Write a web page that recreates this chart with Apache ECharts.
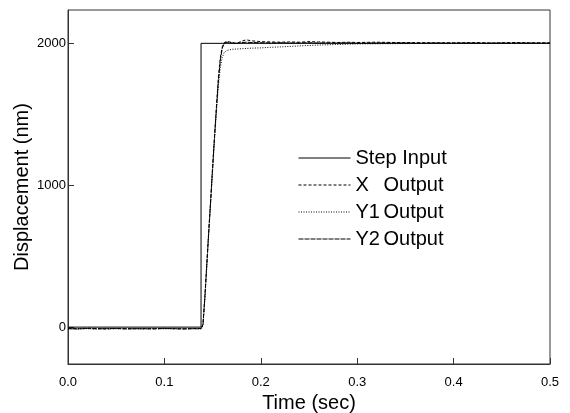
<!DOCTYPE html>
<html>
<head>
<meta charset="utf-8">
<script src="https://cdn.jsdelivr.net/npm/echarts@6/dist/echarts.min.js"></script>
<style>html,body{margin:0;padding:0;background:#fff}#c{width:570px;height:413px}</style>
</head>
<body>
<div id="c"></div>
<script>
var stepTime = [0, 0.138, 0.138, 0.5];
var stepValue = [0, 0, 2000, 2000];

var time = [0,0.01,0.02,0.03,0.04,0.05,0.06,0.07,0.08,0.09,0.1,0.11,0.12,0.13,0.138,0.140,0.142,0.144,0.146,0.148,0.150,0.152,0.154,0.156,0.158,0.160,0.162,0.165,0.17,0.175,0.18,0.185,0.19,0.2,0.21,0.22,0.23,0.24,0.25,0.26,0.27,0.28,0.29,0.3,0.32,0.34,0.36,0.38,0.4,0.42,0.44,0.46,0.48,0.5];

var xOutput = [-10,-12,-8,-10,-14,-9,-11,-12,-10,-13,-9,-11,-12,-10,-10,20,220,450,680,900,1130,1350,1560,1760,1900,1975,2005,2015,2005,2000,2015,2025,2018,2012,2010,2008,2010,2008,2012,2010,2008,2006,2008,2006,2008,2006,2005,2004,2004,2005,2002,2006,2004,2003];

var y1Output = [-12,-10,-11,-13,-9,-12,-10,-11,-13,-10,-12,-9,-11,-12,-11,10,200,430,660,880,1100,1320,1520,1700,1830,1900,1935,1950,1958,1960,1962,1964,1966,1968,1972,1975,1978,1982,1985,1988,1990,1992,1994,1996,1997,1998,1999,1999,2000,2000,2001,2000,2001,2000];

var y2Output = [-11,-13,-10,-12,-11,-10,-13,-11,-12,-11,-10,-12,-13,-11,-12,15,210,440,670,890,1120,1340,1545,1740,1880,1965,2000,2008,2003,2000,2005,2008,2006,2004,2003,2004,2002,2003,2004,2002,2003,2002,2003,2001,2002,2003,2001,2002,2001,2002,2001,2002,2001,2002];

var yTicks = [0, 1000, 2000];

function pairs(xs, ys) { return xs.map(function (x, i) { return [x, ys[i]]; }); }

var chart = echarts.init(document.getElementById('c'), null, {renderer: 'canvas'});
var font = 'Liberation Sans, Arial, sans-serif';
chart.setOption({
  animation: false,
  backgroundColor: '#fff',
  textStyle: {fontFamily: font},
  grid: {left: 68, right: 20, top: 10, bottom: 49, show: true, borderColor: '#333', borderWidth: 1, containLabel: false, outerBoundsMode: 'none'},
  xAxis: {
    type: 'value', min: 0, max: 0.5, interval: 0.1,
    name: 'Time (sec)', nameLocation: 'middle', nameGap: 27,
    nameTextStyle: {fontSize: 20, color: '#000', fontFamily: font},
    axisLine: {show: true, onZero: false, lineStyle: {color: '#333', width: 1}},
    axisTick: {show: true, inside: true, length: 6, lineStyle: {color: '#333'}},
    axisLabel: {fontSize: 13, color: '#000', margin: 12, fontFamily: font, formatter: function (v) { return v.toFixed(1); }},
    splitLine: {show: false}
  },
  yAxis: {
    type: 'value', min: -260, max: 2235,
    name: 'Displacement (nm)', nameLocation: 'middle', nameGap: 36, nameMoveOverlap: false,
    nameTextStyle: {fontSize: 20, color: '#000', fontFamily: font},
    axisLine: {show: true, onZero: false, lineStyle: {color: '#333', width: 1}},
    axisTick: {show: true, inside: true, length: 6, customValues: yTicks, lineStyle: {color: '#333'}},
    axisLabel: {fontSize: 13, color: '#000', margin: 2, fontFamily: font, customValues: yTicks, formatter: function (v) { return String(v); }},
    splitLine: {show: false}
  },
  legend: {
    show: true,
    orient: 'vertical', left: 293, top: 143, itemWidth: 52, itemHeight: 14, itemGap: 7,
    itemStyle: {opacity: 0},
    lineStyle: {width: 1},
    textStyle: {fontSize: 20, color: '#000', fontFamily: font, lineHeight: 20,
      rich: {a: {width: 28, fontSize: 20, color: '#000', fontFamily: font}, b: {fontSize: 20, color: '#000', fontFamily: font}}},
    formatter: function (name) {
      if (name === 'Step Input') return name;
      var parts = name.split(' ');
      return '{a|' + parts[0] + '}{b|' + parts[1] + '}';
    },
    data: ['Step Input', 'X Output', 'Y1 Output', 'Y2 Output']
  },
  series: [
    {name: 'Step Input', type: 'line', symbol: 'none', data: pairs(stepTime, stepValue), lineStyle: {color: '#000', width: 1, type: 'solid'}, itemStyle: {color: '#000'}},
    {name: 'X Output', type: 'line', symbol: 'none', data: pairs(time, xOutput), lineStyle: {color: '#000', width: 1, type: [3, 2]}, itemStyle: {color: '#000'}},
    {name: 'Y1 Output', type: 'line', symbol: 'none', data: pairs(time, y1Output), lineStyle: {color: '#000', width: 1, type: [1, 1.5]}, itemStyle: {color: '#000'}},
    {name: 'Y2 Output', type: 'line', symbol: 'none', data: pairs(time, y2Output), lineStyle: {color: '#000', width: 1, type: [5, 1]}, itemStyle: {color: '#000'}}
  ]
});
</script>
</body>
</html>
